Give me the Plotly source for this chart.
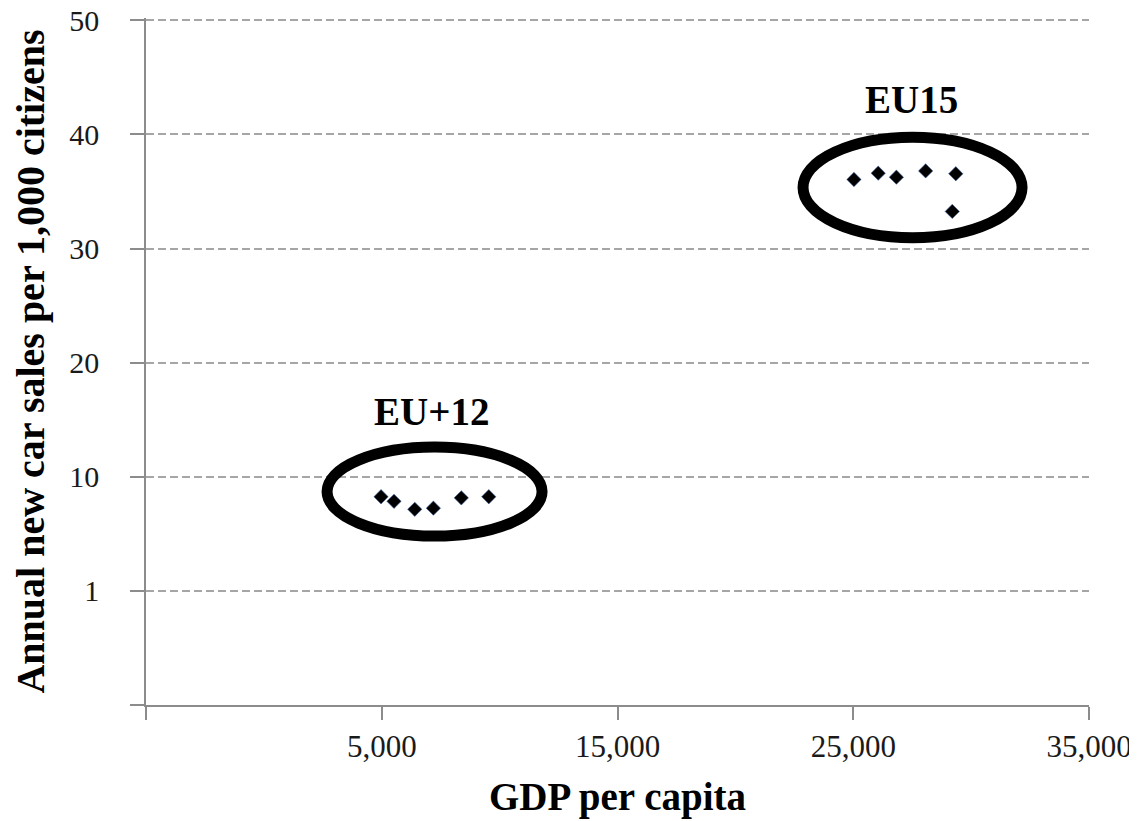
import plotly.graph_objects as go

# EU+12 countries
eu12_gdp = [4970, 5520, 6400, 7190, 8375, 9540]
eu12_sales = [8.25, 7.85, 7.15, 7.25, 8.15, 8.25]
# EU15 countries
eu15_gdp = [25030, 26060, 26830, 28070, 29350, 29200]
eu15_sales = [36.05, 36.6, 36.25, 36.8, 36.55, 33.25]

x_tickvals = [-5000, 5000, 15000, 25000, 35000]
x_ticktext = ["", "5,000", "15,000", "25,000", "35,000"]
y_tickvals = [-10, 0, 10, 20, 30, 40, 50]
y_ticktext = ["", "1", "10", "20", "30", "40", "50"]

# ellipse bounding boxes (data coords)
groups = ["EU+12", "EU15"]
ell_x0 = [2680, 22870]
ell_x1 = [11800, 32160]
ell_y0 = [4.8, 30.95]
ell_y1 = [12.6, 39.75]
label_x = [7130, 27490]
label_y = [15.76, 43.08]

serif = "Liberation Serif, Times New Roman, serif"

fig = go.Figure()
marker = dict(symbol="diamond", size=11, color="black",
              line=dict(color="#3a5f9f", width=0.6))
fig.add_trace(go.Scatter(x=eu12_gdp, y=eu12_sales, mode="markers",
                         marker=marker, name="EU+12", showlegend=False))
fig.add_trace(go.Scatter(x=eu15_gdp, y=eu15_sales, mode="markers",
                         marker=marker, name="EU15", showlegend=False))

for i, g in enumerate(groups):
    fig.add_shape(type="circle", xref="x", yref="y",
                  x0=ell_x0[i], x1=ell_x1[i], y0=ell_y0[i], y1=ell_y1[i],
                  line=dict(color="black", width=11), layer="above")
    fig.add_annotation(x=label_x[i], y=label_y[i], text="<b>%s</b>" % g,
                       showarrow=False, xref="x", yref="y",
                       font=dict(family=serif, size=39, color="black"))

# page body has an 8px margin, so the figure is sized/offset to compensate
fig.update_layout(
    width=1129, height=813,
    margin=dict(l=138, r=48, t=10, b=116),
    plot_bgcolor="white", paper_bgcolor="white",
    font=dict(family=serif),
)
fig.update_xaxes(
    range=[-5000, 35000], tickvals=x_tickvals, ticktext=x_ticktext,
    showgrid=False, zeroline=False, automargin=False,
    showline=True, linecolor="#8c8c8c", linewidth=1.5,
    ticks="outside", ticklen=13, tickcolor="#8c8c8c", tickwidth=1.5,
    tickfont=dict(family=serif, size=31, color="#1a1a1a"),
    ticklabelstandoff=0, ticklabeloverflow="allow",
    title=dict(text="<b>GDP per capita</b>", standoff=20,
               font=dict(family=serif, size=39, color="black")),
)
fig.update_yaxes(
    range=[-10, 50.2], tickvals=y_tickvals, ticktext=y_ticktext,
    showgrid=True, gridcolor="#a6a6a6", gridwidth=1.5, griddash="8px,4px",
    zeroline=False, automargin=False,
    showline=True, linecolor="#8c8c8c", linewidth=1.5,
    ticks="outside", ticklen=14, tickcolor="#8c8c8c", tickwidth=1.5,
    tickfont=dict(family=serif, size=30, color="#1a1a1a"),
    ticklabelstandoff=25, ticklabeloverflow="allow",
    title=dict(text="<b>Annual new car sales per 1,000 citizens</b>", standoff=13,
               font=dict(family=serif, size=40, color="black")),
)

fig.write_html("out.html")
